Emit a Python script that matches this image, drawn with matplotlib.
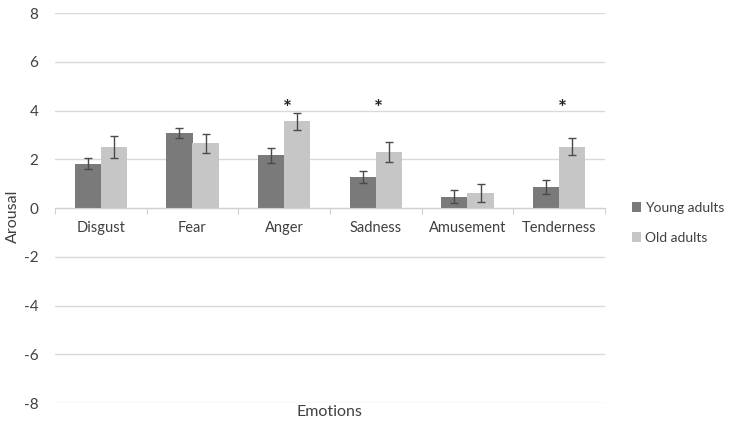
import matplotlib
matplotlib.use("Agg")
import matplotlib.pyplot as plt
import numpy as np

emotions = ["Disgust", "Fear", "Anger", "Sadness", "Amusement", "Tenderness"]
young = [1.82, 3.08, 2.16, 1.26, 0.47, 0.87]
young_err = [0.24, 0.19, 0.30, 0.24, 0.25, 0.28]
old = [2.50, 2.65, 3.55, 2.29, 0.61, 2.52]
old_err = [0.45, 0.40, 0.35, 0.41, 0.38, 0.35]
significant = ["Anger", "Sadness", "Tenderness"]
yticks = [-8, -6, -4, -2, 0, 2, 4, 6, 8]

plt.rcParams['font.family'] = ['Lato', 'DejaVu Sans']
dark = "#7a7a7a"
light = "#c6c6c6"
txt = "#404040"

fig = plt.figure(figsize=(7.37, 4.28), dpi=100)
ax = fig.add_axes([0.0746, 0.0584, 0.7463, 0.9112])

x = np.arange(len(emotions))
w = 0.285
ax.bar(x - 0.142, young, w, color=dark, yerr=young_err, capsize=3,
	error_kw=dict(ecolor="#4a4a4a", elinewidth=1, capthick=1), zorder=3, label="Young adults")
ax.bar(x + 0.142, old, w, color=light, yerr=old_err, capsize=3,
	error_kw=dict(ecolor="#4a4a4a", elinewidth=1, capthick=1), zorder=3, label="Old adults")

# significance marks
for e in significant:
	i = emotions.index(e)
	ax.text(i + 0.03, 4.05, "*", ha="center", va="center", fontsize=15, fontweight="bold", color="#222222")

ax.set_xlim(-0.5, len(emotions) - 0.5)
ax.set_ylim(-8, 8)
ax.set_yticks(yticks)
ax.set_yticklabels([str(v) for v in yticks])
ax.yaxis.grid(True, color="#d9d9d9", linewidth=1)
ax.set_axisbelow(True)
ax.tick_params(axis="y", length=0, pad=12, labelsize=11, labelcolor=txt)

for s in ["top", "right", "left"]:
	ax.spines[s].set_visible(False)
ax.spines["bottom"].set_position(("data", 0))
ax.spines["bottom"].set_color("#d0d0d0")
ax.spines["bottom"].set_zorder(4)

ax.set_xticks(np.arange(len(emotions) + 1) - 0.5)
ax.set_xticklabels([])
ax.set_xticks(x, minor=True)
ax.set_xticklabels(emotions, minor=True)
ax.tick_params(axis="x", which="major", length=4, color="#d0d0d0", direction="out")
ax.tick_params(axis="x", which="minor", length=0, pad=9, labelsize=10.5, labelcolor=txt)

fig.text(0.018, 0.495, "Arousal", rotation=90, ha="center", va="center", fontsize=11.5, color=txt)
fig.text(0.447, 0.037, "Emotions", ha="center", va="center", fontsize=11.5, color=txt)

fig.legend(loc="center left", bbox_to_anchor=(0.84, 0.48), frameon=False, fontsize=10,
	handlelength=0.7, handleheight=0.7, handletextpad=0.3, labelspacing=1.3, labelcolor=txt)

fig.savefig("out.png", dpi=100)
